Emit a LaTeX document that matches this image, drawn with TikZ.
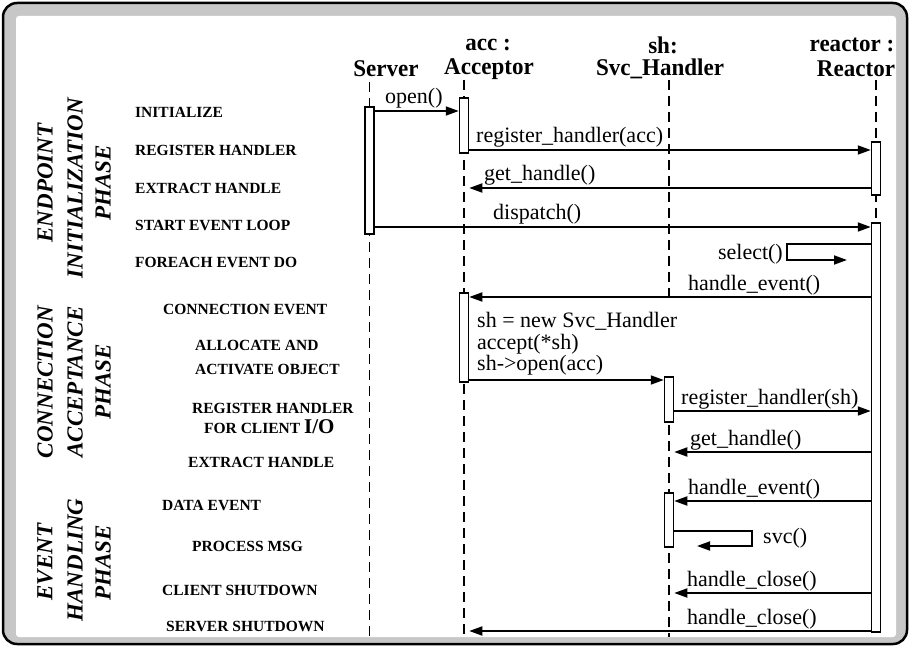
\documentclass[tikz,border=0pt]{standalone}
\usepackage{fontspec}
\setmainfont{Liberation Serif}
\newfontfamily\headfont[FakeStretch=0.96]{Liberation Serif}
\usetikzlibrary{arrows.meta}

\newcommand{\hdfont}{\headfont\bfseries\fontsize{24}{26}\selectfont}
\newcommand{\msgfont}{\fontsize{22}{22}\selectfont}
\newcommand{\stepfont}{\bfseries\fontsize{15.5}{20}\selectfont}
\newcommand{\phasefont}{\bfseries\itshape\fontsize{23}{26}\selectfont}

\begin{document}
\begin{tikzpicture}[x=1pt,y=-1pt,
  lifeline/.style={line width=1.6pt, dash pattern=on 10pt off 6pt},
  actbox/.style={draw, line width=1.5pt, fill=white, minimum width=9pt, inner sep=0pt},
  msg/.style={line width=1.8pt, -{Triangle[length=13pt,width=9pt]}},
  msgtxt/.style={font=\msgfont, inner sep=0pt, anchor=base west},
  hdtxt/.style={font=\hdfont, inner sep=0pt},
  steptxt/.style={font=\stepfont, inner sep=0pt, anchor=west},
  phasetxt/.style={font=\phasefont, inner sep=0pt, rotate=90}]

\useasboundingbox (0,0) rectangle (910,647);

% frame: black rounded border, stippled grey band, white field
\draw[line width=2.5pt, fill=black!22, rounded corners=14pt] (3,3) rectangle (907,644);
\fill[white, rounded corners=3pt] (16,16) rectangle (896,637);

% object headers
\node[hdtxt] (hServer) at (386,69) {Server};
\node[hdtxt] (hAcc1) at (488,45) {acc :};
\node[hdtxt] (hAcc2) at (489,69) {Acceptor};
\node[hdtxt] (hSh1) at (663,45) {sh:};
\node[hdtxt] (hSh2) at (660,69) {Svc\_Handler};
\node[hdtxt] (hRea1) at (852,45) {reactor :};
\node[hdtxt] (hRea2) at (856,69) {Reactor};

% lifelines (the handler's line pauses while it is being created)
\coordinate (sTop) at (369.5,82);  \coordinate (sBot) at (369.5,637);
\coordinate (aTop) at (464,80);    \coordinate (aBot) at (464,637);
\coordinate (hTop) at (669,80);    \coordinate (hMid) at (669,302);
\coordinate (hRes) at (669,377);   \coordinate (hBot) at (669,637);
\coordinate (rTop) at (876,80);    \coordinate (rBot) at (876,632);
\draw[lifeline] (sTop) -- (sBot);
\draw[lifeline] (aTop) -- (aBot);
\draw[lifeline] (hTop) -- (hMid);
\draw[lifeline] (hRes) -- (hBot);
\draw[lifeline] (rTop) -- (rBot);

% activation boxes
\node[actbox, minimum height=127pt] (srv1) at (369.5,170.5) {};
\node[actbox, minimum height=55pt]  (acc1) at (464,125.5) {};
\node[actbox, minimum height=53pt]  (rea1) at (876,168.5) {};
\node[actbox, minimum height=409pt] (rea2) at (876,427.5) {};
\node[actbox, minimum height=89pt]  (acc2) at (464,337.5) {};
\node[actbox, minimum height=45pt]  (sh1)  at (669,399.5) {};
\node[actbox, minimum height=54pt]  (sh2)  at (669,520) {};

% endpoint initialization
\draw[msg] (srv1.east |- 0,111) -- (acc1.west |- 0,111);
\node[msgtxt] (lOpen) at (385,104) {open()};
\draw[msg] (acc1.east |- 0,150) -- (rea1.west |- 0,150);
\node[msgtxt] (lReg1) at (476,143) {register\_handler(acc)};
\draw[msg] (rea1.west |- 0,188) -- (acc1.east |- 0,188);
\node[msgtxt] (lGet1) at (484,181) {get\_handle()};
\draw[msg] (srv1.east |- 0,227) -- (rea2.west |- 0,227);
\node[msgtxt] (lDisp) at (493,220) {dispatch()};
\draw[msg] (rea2.west |- 0,244) -- (787,244) -- (787,260) -- (847,260);
\node[msgtxt, anchor=base east] (lSel) at (783,259) {select()};
\draw[msg] (rea2.west |- 0,297) -- (acc2.east |- 0,297);
\node[msgtxt] (lEv1) at (688,290) {handle\_event()};

% connection acceptance
\node[msgtxt] (lNew) at (477,327) {sh = new Svc\_Handler};
\node[msgtxt] (lAcc) at (477,349) {accept(*sh)};
\node[msgtxt] (lShO) at (477,370) {sh->open(acc)};
\draw[msg] (acc2.east |- 0,380) -- (sh1.west |- 0,380);
\draw[msg] (sh1.east |- 0,411) -- (rea2.west |- 0,411);
\node[msgtxt] (lReg2) at (681,404) {register\_handler(sh)};
\draw[msg] (rea2.west |- 0,452) -- (sh1.east |- 0,452);
\node[msgtxt] (lGet2) at (690,445) {get\_handle()};

% event handling
\draw[msg] (rea2.west |- 0,501) -- (sh2.east |- 0,501);
\node[msgtxt] (lEv2) at (688,494) {handle\_event()};
\draw[msg] (sh2.east |- 0,531) -- (752,531) -- (752,546) -- (697,546);
\node[msgtxt, anchor=west] (lSvc) at (763,538) {svc()};
\draw[msg] (rea2.west |- 0,593) -- (sh2.east |- 0,593);
\node[msgtxt] (lCl1) at (687,586) {handle\_close()};
\draw[msg] (rea2.west |- 0,631) -- (acc2.east |- 0,631);
\node[msgtxt] (lCl2) at (687,624) {handle\_close()};

% step captions
\node[steptxt] (t1) at (135,112) {INITIALIZE};
\node[steptxt] (t2) at (135,150) {REGISTER HANDLER};
\node[steptxt] (t3) at (135,188) {EXTRACT HANDLE};
\node[steptxt] (t4) at (135,225) {START EVENT LOOP};
\node[steptxt] (t5) at (135,262) {FOREACH EVENT DO};
\node[steptxt] (t6) at (163,309) {CONNECTION EVENT};
\node[steptxt] (t7) at (195,345) {ALLOCATE AND};
\node[steptxt] (t8) at (195,369) {ACTIVATE OBJECT};
\node[steptxt] (t9) at (192,408) {REGISTER HANDLER};
\node[steptxt] (t10) at (204,427) {FOR CLIENT {\fontsize{21}{21}\selectfont I/O}};
\node[steptxt] (t11) at (188,462) {EXTRACT HANDLE};
\node[steptxt] (t12) at (162,505) {DATA EVENT};
\node[steptxt] (t13) at (192,546) {PROCESS MSG};
\node[steptxt] (t14) at (162,590) {CLIENT SHUTDOWN};
\node[steptxt] (t15) at (166,626) {SERVER SHUTDOWN};

% phase titles
\node[phasetxt] (p1a) at (45,183) {ENDPOINT};
\node[phasetxt] (p1b) at (75,188) {INITIALIZATION};
\node[phasetxt] (p1c) at (103,183) {PHASE};
\node[phasetxt] (p2a) at (45,382) {CONNECTION};
\node[phasetxt] (p2b) at (75,382) {ACCEPTANCE};
\node[phasetxt] (p2c) at (103,382) {PHASE};
\node[phasetxt] (p3a) at (45,562) {EVENT};
\node[phasetxt] (p3b) at (75,560) {HANDLING};
\node[phasetxt] (p3c) at (103,563) {PHASE};
\end{tikzpicture}
\end{document}
